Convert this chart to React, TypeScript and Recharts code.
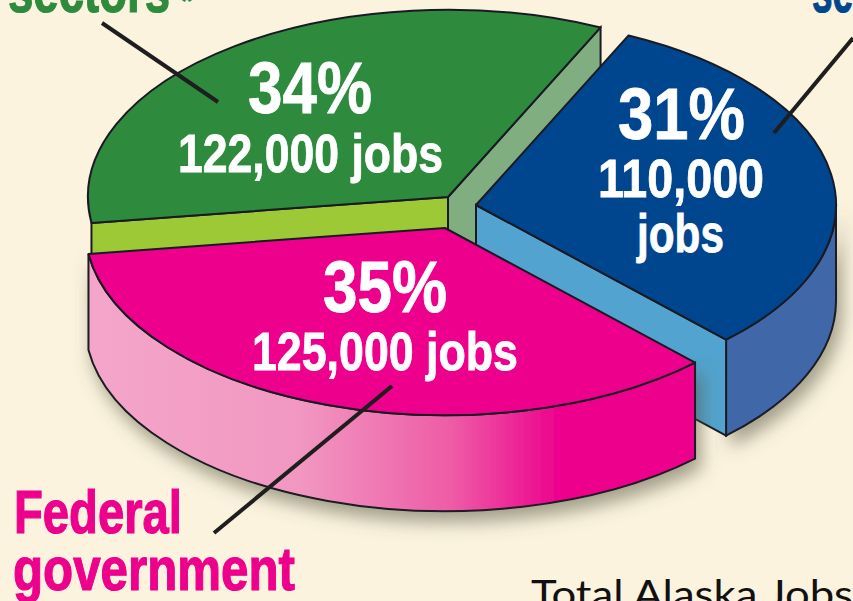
import { PieChart, Pie } from "recharts";

const sliceNames = ["Private A", "Private B", "Federal government"];
const sliceJobs = [110000, 122000, 125000];
const slices = sliceNames.map((name, i) => ({ name, jobs: sliceJobs[i] }));

const W = 853;
const H = 601;
const SQUASH = 0.52; // ellipse ratio of the tilted pie
const DEPTH = 96;
const FONT = "'Liberation Sans Narrow', 'Liberation Sans', sans-serif";

// how far each slice is pulled out of the pie, and its colours
const look: Record<string, any> = {
  "Private A": { dx: 31, dy: -23, top: "#00468f", side: "#3f68a8", frontFace: "#52a3cf" },
  "Private B": { dx: 3, dy: -31, top: "#2e8b3e", backFaces: ["#80ae80", "#9dc937"] },
  "Federal government": { dx: 0, dy: 0, top: "#ec008c", side: "url(#pinkSide)" },
};

const EDGE = "#1a1a24";

const rim = (cx: number, cy: number, r: number, a: number) => {
  const t = (a * Math.PI) / 180;
  return [cx + r * Math.cos(t), cy - r * SQUASH * Math.sin(t)];
};

const styleOf = (props: any) => look[props.name ?? props.payload?.name];

function TopShape(props: any) {
  const s = styleOf(props);
  const cx = props.cx + s.dx;
  const cy = props.cy + s.dy;
  const r = props.outerRadius;
  const [x1, y1] = rim(cx, cy, r, props.startAngle);
  const [x2, y2] = rim(cx, cy, r, props.endAngle);
  return (
    <path
      d={`M${cx} ${cy}L${x1} ${y1}A${r} ${r * SQUASH} 0 0 0 ${x2} ${y2}Z`}
      fill={s.top}
      stroke={EDGE}
      strokeWidth={2}
      strokeLinejoin="round"
    />
  );
}

function cutFace(cx: number, cy: number, r: number, a: number, fill: string) {
  const [x, y] = rim(cx, cy, r, a);
  return (
    <path
      key={a}
      d={`M${cx} ${cy}L${x} ${y}V${y + DEPTH}L${cx} ${cy + DEPTH}Z`}
      fill={fill}
      stroke={EDGE}
      strokeWidth={2}
    />
  );
}

// the green slice's cut faces sit behind everything else
function BackShape(props: any) {
  const s = styleOf(props);
  if (!s.backFaces) return <g />;
  const cx = props.cx + s.dx;
  const cy = props.cy + s.dy;
  return (
    <g>
      {cutFace(cx, cy, props.outerRadius, props.startAngle, s.backFaces[0])}
      {cutFace(cx, cy, props.outerRadius, props.endAngle, s.backFaces[1])}
    </g>
  );
}

function FrontShape(props: any) {
  const s = styleOf(props);
  if (!s.side) return <g />;
  const cx = props.cx + s.dx;
  const cy = props.cy + s.dy;
  const r = props.outerRadius;
  // only the part of the rim that faces the viewer gets a wall
  const a1 = props.startAngle;
  const a2 = props.startAngle < 0 ? 0 : props.endAngle;
  const [x1, y1] = rim(cx, cy, r, a1);
  const [x2, y2] = rim(cx, cy, r, a2);
  return (
    <g>
      <path
        d={`M${x1} ${y1}A${r} ${r * SQUASH} 0 0 0 ${x2} ${y2}V${y2 + DEPTH}A${r} ${r * SQUASH} 0 0 1 ${x1} ${y1 + DEPTH}Z`}
        fill={s.side}
        stroke={EDGE}
        strokeWidth={2}
        filter="url(#pieShadow)"
      />
      {s.frontFace && cutFace(cx, cy, r, a1, s.frontFace)}
    </g>
  );
}

const WHITE = { fill: "#ffffff", stroke: "#ffffff", strokeWidth: 0.8, fontFamily: FONT, fontWeight: 700, lengthAdjust: "spacingAndGlyphs" };
const HEAD = { fontFamily: FONT, fontWeight: 700, fontSize: 62, lengthAdjust: "spacingAndGlyphs", strokeWidth: 1.2 };

export default function App() {
  const pieProps = {
    data: slices,
    dataKey: "jobs",
    cx: 445,
    cy: 228,
    outerRadius: 360,
    startAngle: -46,
    endAngle: 314,
    isAnimationActive: false,
  };
  return (
    <div style={{ position: "absolute", left: 0, top: 0, width: W, height: H, overflow: "hidden", background: "#fbf3de" }}>
      <PieChart width={W} height={H} margin={{ top: 0, right: 0, bottom: 0, left: 0 }}>
        <defs>
          <linearGradient id="pinkSide" x1="0" y1="0" x2="1" y2="0">
            <stop offset="0" stopColor="#f4a6ca" />
            <stop offset="0.35" stopColor="#f197c1" />
            <stop offset="0.6" stopColor="#ee5ba6" />
            <stop offset="0.78" stopColor="#ec008c" />
            <stop offset="1" stopColor="#ec008c" />
          </linearGradient>
          <filter id="pieShadow" x="-10%" y="-10%" width="125%" height="135%">
            <feDropShadow dx={5} dy={10} stdDeviation={9} floodColor="#55553f" floodOpacity={0.55} />
          </filter>
        </defs>
        <Pie {...pieProps} shape={BackShape} activeShape={BackShape} />
        <Pie {...pieProps} shape={FrontShape} activeShape={FrontShape} />
        <Pie {...pieProps} shape={TopShape} activeShape={TopShape} />
      </PieChart>

      {/* Pie layers paint above plain chart children, so text and leaders get their own svg */}
      <svg width={W} height={H} style={{ position: "absolute", left: 0, top: 0 }}>
        <line x1={102} y1={23} x2={218} y2={102} stroke="#1e1e1e" strokeWidth={4} />
        <line x1={853} y1={38} x2={774} y2={133} stroke="#1e1e1e" strokeWidth={4} />
        <line x1={392} y1={386} x2={214} y2={533} stroke="#1e1e1e" strokeWidth={4} />

        <text x={248} y={113} fontSize={72} textLength={124} {...WHITE}>34%</text>
        <text x={178} y={172} fontSize={54} textLength={265} {...WHITE}>122,000 jobs</text>
        <text x={618} y={139} fontSize={72} textLength={127} {...WHITE}>31%</text>
        <text x={598} y={197} fontSize={54} textLength={166} {...WHITE}>110,000</text>
        <text x={637} y={252} fontSize={54} textLength={87} {...WHITE}>jobs</text>
        <text x={323} y={312} fontSize={72} textLength={124} {...WHITE}>35%</text>
        <text x={252} y={370} fontSize={54} textLength={266} {...WHITE}>125,000 jobs</text>

        <text x={8} y={12} textLength={162} fill="#2e8b3e" stroke="#2e8b3e" {...HEAD}>sectors</text>
        <text x={181} y={11} fontSize={30} fill="#2e8b3e" fontFamily={FONT} fontWeight={700}>*</text>
        <text x={812} y={12} textLength={41} fill="#00468f" stroke="#00468f" {...HEAD}>se</text>
        <text x={14} y={533} textLength={168} fill="#ec008c" stroke="#ec008c" {...HEAD}>Federal</text>
        <text x={13} y={590} textLength={282} fill="#ec008c" stroke="#ec008c" {...HEAD}>government</text>
        <text x={531} y={608} fontSize={38} textLength={322} lengthAdjust="spacingAndGlyphs" fill="#111111" fontFamily="Lato, sans-serif">Total Alaska Jobs</text>
      </svg>
    </div>
  );
}
